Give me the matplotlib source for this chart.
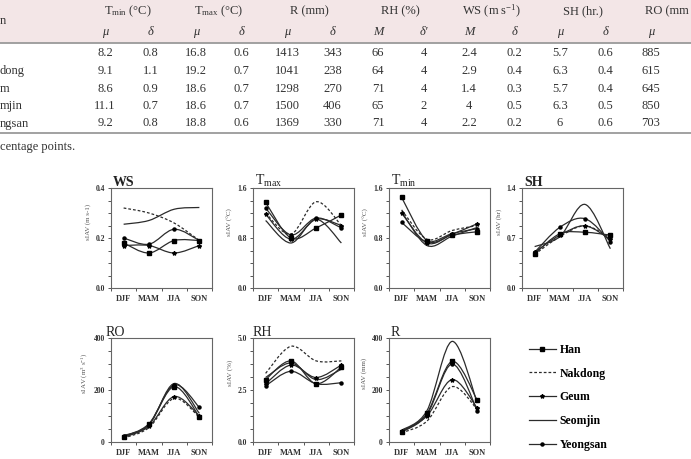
import matplotlib
matplotlib.use("Agg")
import matplotlib.pyplot as plt
from matplotlib.path import Path
from matplotlib.patches import PathPatch, Rectangle
from matplotlib.lines import Line2D
from matplotlib.ticker import MultipleLocator, FixedLocator

plt.rcParams['font.family'] = ['Liberation Serif', 'DejaVu Serif']
plt.rcParams['mathtext.fontset'] = 'custom'
plt.rcParams['mathtext.rm'] = 'Liberation Serif'
plt.rcParams['mathtext.it'] = 'Liberation Serif:italic'

W, H = 691, 459

# ---------------- data ----------------
seasons = ["DJF", "MAM", "JJA", "SON"]
basins = ["Han", "Nakdong", "Geum", "Seomjin", "Yeongsan"]

# table (visible part)
table_groups = ["T$_{\\rm min}$ (°C)", "T$_{\\rm max}$ (°C)", "R (mm)", "RH (%)",
                "WS (m s$^{-1}$)", "SH (hr.)", "RO (mm"]
table_sub = ["μ", "δ", "μ", "δ", "μ", "δ", "M", "δ'", "M", "δ", "μ", "δ", "μ"]
row_names_visible = ["", "dong", "m", "mjin", "ngsan"]
table_rows = [
    ["8.2", "0.8", "16.8", "0.6", "1413", "343", "66", "4", "2.4", "0.2", "5.7", "0.6", "885"],
    ["9.1", "1.1", "19.2", "0.7", "1041", "238", "64", "4", "2.9", "0.4", "6.3", "0.4", "615"],
    ["8.6", "0.9", "18.6", "0.7", "1298", "270", "71", "4", "1.4", "0.3", "5.7", "0.4", "645"],
    ["11.1", "0.7", "18.6", "0.7", "1500", "406", "65", "2", "4", "0.5", "6.3", "0.5", "850"],
    ["9.2", "0.8", "18.8", "0.6", "1369", "330", "71", "4", "2.2", "0.2", "6", "0.6", "703"],
]
footnote = "centage points."

# panel series (Han, Nakdong, Geum, Seomjin, Yeongsan)
ws = [[0.18, 0.14, 0.19, 0.19],
      [0.32, 0.30, 0.26, 0.19],
      [0.17, 0.17, 0.14, 0.17],
      [0.255, 0.27, 0.315, 0.322],
      [0.20, 0.175, 0.235, 0.19]]
tmax = [[1.37, 0.80, 0.96, 1.17],
        [1.20, 0.86, 1.38, 1.00],
        [1.18, 0.78, 1.10, 1.00],
        [1.08, 0.72, 1.10, 0.72],
        [1.28, 0.85, 1.12, 0.96]]
tmin = [[1.45, 0.76, 0.85, 0.90],
        [1.25, 0.78, 0.92, 1.00],
        [1.20, 0.72, 0.86, 1.03],
        [1.22, 0.68, 0.83, 0.97],
        [1.05, 0.74, 0.87, 0.95]]
sh = [[0.48, 0.76, 0.78, 0.74],
      [0.47, 0.72, 0.87, 0.70],
      [0.50, 0.74, 0.87, 0.68],
      [0.58, 0.72, 1.17, 0.55],
      [0.50, 0.85, 0.97, 0.65]]
ro = [[20, 68, 213, 97],
      [15, 55, 168, 95],
      [18, 60, 175, 100],
      [25, 65, 225, 110],
      [22, 70, 220, 133]]
rh = [[3.0, 3.9, 2.8, 3.6],
      [3.3, 4.6, 3.9, 3.9],
      [2.8, 3.7, 3.1, 3.7],
      [3.1, 3.8, 3.0, 3.5],
      [2.7, 3.4, 2.8, 2.85]]
r = [[40, 110, 310, 160],
     [35, 80, 213, 125],
     [42, 100, 240, 130],
     [45, 120, 387, 150],
     [38, 105, 300, 120]]

# ---------------- styles ----------------
line_col = "#2b2b2b"
styles = {
    "Han": dict(ls="-", marker="s", ms=3.0),
    "Nakdong": dict(ls=(0, (2.2, 1.6)), marker=None, ms=0),
    "Geum": dict(ls="-", marker="*", ms=3.0),
    "Seomjin": dict(ls="-", marker=None, ms=0),
    "Yeongsan": dict(ls="-", marker="o", ms=2.2),
}

fig = plt.figure(figsize=(W / 100, H / 100), dpi=100)


def fx(x):
    return x / W


def fy(y):
    return 1 - y / H


# ---------------- table ----------------
fig.patches.append(Rectangle((0, fy(43)), 1, 43 / H, transform=fig.transFigure,
                             facecolor="#f3e6e7", edgecolor="none", zorder=0))
for yy in (43, 133):
    fig.lines.append(Line2D([0, 1], [fy(yy), fy(yy)], transform=fig.transFigure,
                            color="#9a9a9a", lw=1.3))
col_x = [105 + 45.5 * i for i in range(13)]
tc = "#333333"
tfs = 9
for gi, g in enumerate(table_groups[:-1]):
    cx = col_x[2 * gi] + 22.7
    fig.text(fx(cx), fy(11), g, ha="center", va="center", fontsize=tfs, color=tc)
fig.text(fx(645), fy(11), table_groups[-1], ha="left", va="center", fontsize=tfs, color=tc)
fig.text(fx(0), fy(21), "n", ha="left", va="center", fontsize=tfs, color=tc)
for ci, s in enumerate(table_sub):
    fig.text(fx(col_x[ci]), fy(32), s, ha="center", va="center", fontsize=tfs,
             color=tc, style="italic")
row_y = [53, 71, 88.5, 106, 123.5]
for ri, row in enumerate(table_rows):
    fig.text(fx(0), fy(row_y[ri]), row_names_visible[ri], ha="left", va="center",
             fontsize=tfs, color=tc)
    for ci, v in enumerate(row):
        fig.text(fx(col_x[ci]), fy(row_y[ri]), v, ha="center", va="center",
                 fontsize=tfs, color=tc)
fig.text(fx(0), fy(147), footnote, ha="left", va="center", fontsize=tfs, color=tc)


# ---------------- panels ----------------
def smooth_patch(xs, ys, **kw):
    pts = list(zip(xs, ys))
    n = len(pts)
    verts = [pts[0]]
    codes = [Path.MOVETO]
    for i in range(n - 1):
        p0 = pts[i - 1] if i > 0 else pts[i]
        p1 = pts[i]
        p2 = pts[i + 1]
        p3 = pts[i + 2] if i + 2 < n else pts[i + 1]
        c1 = (p1[0] + (p2[0] - p0[0]) / 6, p1[1] + (p2[1] - p0[1]) / 6)
        c2 = (p2[0] - (p3[0] - p1[0]) / 6, p2[1] - (p3[1] - p1[1]) / 6)
        verts += [c1, c2, p2]
        codes += [Path.CURVE4] * 3
    return PathPatch(Path(verts, codes), fill=False, **kw)


def panel(left, top, w, h, data, title, ylabel, ymax, ymid_fmt, minor,
          title_dx=0, bold_title=False, ylab_x=-0.2):
    ax = fig.add_axes([fx(left), fy(top + h), w / W, h / H])
    xs = list(range(len(seasons)))
    for b, ys in zip(basins, data):
        st = styles[b]
        ax.add_patch(smooth_patch(xs, ys, edgecolor=line_col, lw=0.9,
                                  linestyle=st["ls"], zorder=3))
        if st["marker"]:
            ax.plot(xs, ys, linestyle="none", marker=st["marker"], ms=st["ms"],
                    color="black", zorder=4)
    ax.set_xlim(-0.5, 3.5)
    ax.set_ylim(0, ymax)
    ax.xaxis.set_major_locator(FixedLocator([-0.5, 0.5, 1.5, 2.5, 3.5]))
    ax.xaxis.set_major_formatter(plt.NullFormatter())
    ax.xaxis.set_minor_locator(FixedLocator(xs))
    ax.set_xticklabels(seasons, minor=True)
    ax.tick_params(axis="x", which="minor", length=0, labelsize=6, pad=5)
    ax.tick_params(axis="x", which="major", length=2.5, width=0.7, direction="out",
                   colors="#555555")
    for lab in ax.get_xticklabels(minor=True):
        lab.set_fontweight("bold")
        lab.set_color("#333333")
    ax.set_yticks([0, ymax / 2, ymax])
    ax.set_yticklabels([ymid_fmt.format(v) for v in (0, ymax / 2, ymax)])
    ax.yaxis.set_minor_locator(MultipleLocator(minor))
    ax.tick_params(axis="y", which="both", direction="out", length=2.5, width=0.7,
                   colors="#555555", labelsize=5.5, pad=2)
    for lab in ax.get_yticklabels():
        lab.set_fontweight("bold")
        lab.set_color("#333333")
    for sp in ax.spines.values():
        sp.set_color("#666666")
        sp.set_linewidth(0.8)
    ax.set_ylabel(ylabel, fontsize=5, color="#555555", labelpad=1)
    ax.yaxis.set_label_coords(ylab_x, 0.66)
    ax.text(0.02 + title_dx, 0.99, title, transform=ax.transAxes, ha="left",
            va="bottom", fontsize=10, color="#222222",
            fontweight="bold" if bold_title else "normal")
    return ax


r1_top, r1_h = 188, 100
r2_top, r2_h = 338, 104
pw = 101
panel(111, r1_top, pw, r1_h, ws, "WS", "sIAV (m s-1)", 0.4, "{:.1f}", 0.05, bold_title=True)
panel(253, r1_top, pw, r1_h, tmax, "T$_{\\rm max}$", "sIAV (°C)", 1.6, "{:.1f}", 0.2)
panel(389, r1_top, pw, r1_h, tmin, "T$_{\\rm min}$", "sIAV (°C)", 1.6, "{:.1f}", 0.2)
panel(522, r1_top, pw, r1_h, sh, "SH", "sIAV (hr)", 1.4, "{:.1f}", 0.175, bold_title=True)
panel(111, r2_top, pw, r2_h, ro, "RO", "sIAV (m$^3$ s$^{-1}$)", 400, "{:.0f}", 50,
      title_dx=-0.07, ylab_x=-0.22)
panel(253, r2_top, pw, r2_h, rh, "RH", "sIAV (%)", 5.0, "{:.1f}", 0.625, title_dx=-0.02)
panel(389, r2_top, pw, r2_h, r, "R", "sIAV (mm)", 400, "{:.0f}", 50, ylab_x=-0.22)

# ---------------- legend ----------------
handles = []
for b in basins:
    st = styles[b]
    handles.append(Line2D([], [], color=line_col, lw=0.9, linestyle=st["ls"],
                          marker=st["marker"] if st["marker"] else None,
                          ms=st["ms"], markerfacecolor="black", markeredgecolor="black"))
fig.legend(handles, basins, loc="upper left", bbox_to_anchor=(fx(524), fy(339)),
           frameon=False, prop=dict(family="Liberation Serif", weight="bold", size=8.5),
           handlelength=2.3, labelspacing=1.0, handletextpad=0.3, borderaxespad=0)

fig.savefig("out.png", dpi=100, facecolor="white")
